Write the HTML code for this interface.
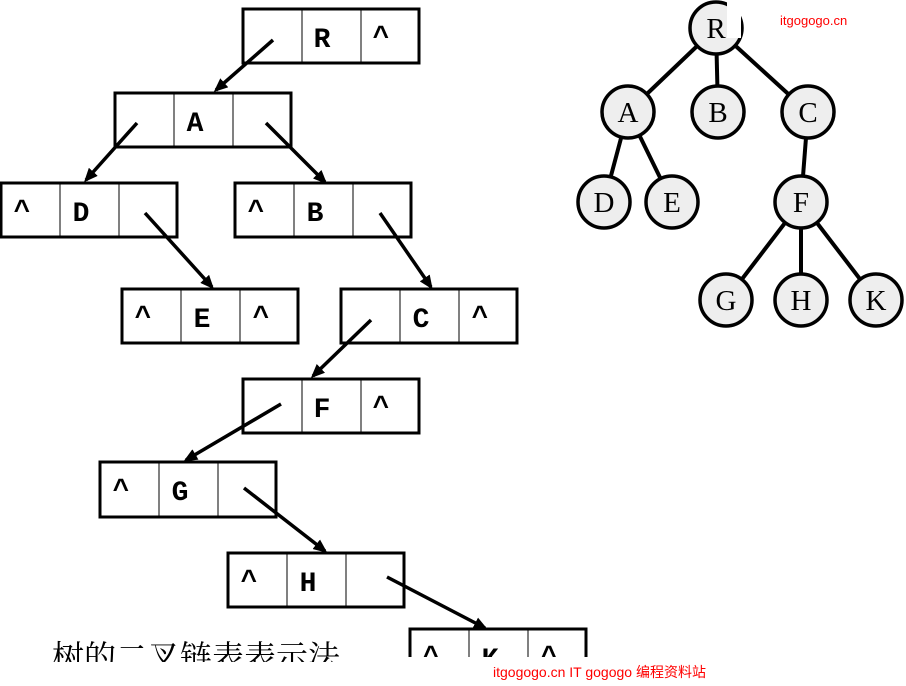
<!DOCTYPE html>
<html><head><meta charset="utf-8"><style>
html,body{margin:0;padding:0;background:#fff;width:906px;height:686px;overflow:hidden}
svg{display:block}
.b{fill:#fff;stroke:#000;stroke-width:3}
.c{stroke:#000;stroke-width:1}
.t{font-family:"Liberation Mono",monospace;font-weight:bold;font-size:28px;text-anchor:middle}
.a{stroke:#000;stroke-width:3.5;fill:none}
.n{fill:#eee;stroke:#000;stroke-width:3.5}
.nt{font-family:"Liberation Serif",serif;font-size:29px;text-anchor:middle}
</style></head><body>
<svg width="906" height="686" viewBox="0 0 906 686" xmlns="http://www.w3.org/2000/svg">
<defs>
<marker id="ar" markerWidth="14" markerHeight="12" refX="11" refY="6" orient="auto" markerUnits="userSpaceOnUse">
<path d="M0,0 L14,6 L0,12 z" fill="#000"/></marker>
</defs>
<g>
<rect class="b" x="243" y="9" width="176" height="54"/><line class="c" x1="302" y1="9" x2="302" y2="63"/><line class="c" x1="361" y1="9" x2="361" y2="63"/>
<text class="t" x="322" y="47">R</text><text class="t" x="381" y="45">^</text>

<rect class="b" x="115" y="93" width="176" height="54"/><line class="c" x1="174" y1="93" x2="174" y2="147"/><line class="c" x1="233" y1="93" x2="233" y2="147"/>
<text class="t" x="195" y="131">A</text>

<rect class="b" x="1" y="183" width="176" height="54"/><line class="c" x1="60" y1="183" x2="60" y2="237"/><line class="c" x1="119" y1="183" x2="119" y2="237"/>
<text class="t" x="22" y="219">^</text><text class="t" x="81" y="221">D</text>

<rect class="b" x="235" y="183" width="176" height="54"/><line class="c" x1="294" y1="183" x2="294" y2="237"/><line class="c" x1="353" y1="183" x2="353" y2="237"/>
<text class="t" x="256" y="219">^</text><text class="t" x="315" y="221">B</text>

<rect class="b" x="122" y="289" width="176" height="54"/><line class="c" x1="181" y1="289" x2="181" y2="343"/><line class="c" x1="240" y1="289" x2="240" y2="343"/>
<text class="t" x="143" y="325">^</text><text class="t" x="202" y="327">E</text><text class="t" x="261" y="325">^</text>

<rect class="b" x="341" y="289" width="176" height="54"/><line class="c" x1="400" y1="289" x2="400" y2="343"/><line class="c" x1="459" y1="289" x2="459" y2="343"/>
<text class="t" x="421" y="327">C</text><text class="t" x="480" y="325">^</text>

<rect class="b" x="243" y="379" width="176" height="54"/><line class="c" x1="302" y1="379" x2="302" y2="433"/><line class="c" x1="361" y1="379" x2="361" y2="433"/>
<text class="t" x="322" y="417">F</text><text class="t" x="381" y="415">^</text>

<rect class="b" x="100" y="462" width="176" height="55"/><line class="c" x1="159" y1="462" x2="159" y2="517"/><line class="c" x1="218" y1="462" x2="218" y2="517"/>
<text class="t" x="121" y="498">^</text><text class="t" x="180" y="500">G</text>

<rect class="b" x="228" y="553" width="176" height="54"/><line class="c" x1="287" y1="553" x2="287" y2="607"/><line class="c" x1="346" y1="553" x2="346" y2="607"/>
<text class="t" x="249" y="589">^</text><text class="t" x="308" y="591">H</text>

<rect class="b" x="410" y="629" width="176" height="54"/><line class="c" x1="469" y1="629" x2="469" y2="683"/><line class="c" x1="528" y1="629" x2="528" y2="683"/>
<text class="t" x="431" y="665">^</text><text class="t" x="490" y="667">K</text><text class="t" x="549" y="665">^</text>
<rect x="405" y="657" width="190" height="30" fill="#fff"/>
</g>
<g>
<line class="a" x1="273" y1="40" x2="216" y2="90" marker-end="url(#ar)"/>
<line class="a" x1="137" y1="123" x2="86" y2="180" marker-end="url(#ar)"/>
<line class="a" x1="266" y1="123" x2="325" y2="182" marker-end="url(#ar)"/>
<line class="a" x1="145" y1="213" x2="212" y2="287" marker-end="url(#ar)"/>
<line class="a" x1="380" y1="213" x2="431" y2="287" marker-end="url(#ar)"/>
<line class="a" x1="371" y1="320" x2="313" y2="376" marker-end="url(#ar)"/>
<line class="a" x1="281" y1="404" x2="186" y2="460" marker-end="url(#ar)"/>
<line class="a" x1="244" y1="488" x2="325" y2="551" marker-end="url(#ar)"/>
<line class="a" x1="387" y1="577" x2="485" y2="628" marker-end="url(#ar)"/>
</g>
<g stroke="#000" stroke-width="4">
<line x1="716" y1="28" x2="628" y2="112"/><line x1="716" y1="28" x2="718" y2="112"/><line x1="716" y1="28" x2="808" y2="112"/>
<line x1="628" y1="112" x2="604" y2="202"/><line x1="628" y1="112" x2="672" y2="202"/>
<line x1="808" y1="112" x2="801" y2="202"/>
<line x1="801" y1="202" x2="726" y2="300"/><line x1="801" y1="202" x2="801" y2="300"/><line x1="801" y1="202" x2="876" y2="300"/>
</g>
<circle class="n" cx="716" cy="28" r="26"/>
<rect x="727" y="0" width="14" height="38" fill="#fff"/>
<path d="M716,20 L727,20 L727,38 L716,38z" fill="#eee"/>
<circle class="n" cx="628" cy="112" r="26"/><circle class="n" cx="718" cy="112" r="26"/><circle class="n" cx="808" cy="112" r="26"/>
<circle class="n" cx="604" cy="202" r="26"/><circle class="n" cx="672" cy="202" r="26"/><circle class="n" cx="801" cy="202" r="26"/>
<circle class="n" cx="726" cy="300" r="26"/><circle class="n" cx="801" cy="300" r="26"/><circle class="n" cx="876" cy="300" r="26"/>
<g class="nt">
<text x="716" y="38">R</text><text x="628" y="122">A</text><text x="718" y="122">B</text><text x="808" y="122">C</text>
<text x="604" y="212">D</text><text x="672" y="212">E</text><text x="801" y="212">F</text>
<text x="726" y="310">G</text><text x="801" y="310">H</text><text x="876" y="310">K</text>
</g>
<text x="780" y="25" fill="#f00" font-family="Liberation Sans,sans-serif" font-size="13">itgogogo.cn</text>
<text x="52" y="668" font-family="Liberation Serif,'Noto Serif CJK SC',serif" font-size="32">树的二叉链表表示法</text>
<rect x="40" y="662" width="340" height="30" fill="#fff"/>
<text x="493" y="677" fill="#f00" font-family="Liberation Sans,'Noto Sans CJK SC',sans-serif" font-size="14">itgogogo.cn IT gogogo 编程资料站</text>
</svg>
</body></html>
